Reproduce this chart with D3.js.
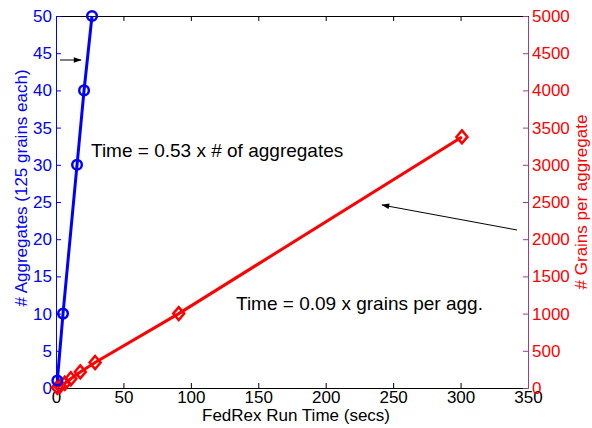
<!DOCTYPE html>
<html>
<head>
<meta charset="utf-8">
<script src="https://cdn.jsdelivr.net/npm/d3@7"></script>
<style>
body { margin: 0; background: #fff; }
svg text { font-family: "Liberation Sans", Arial, sans-serif; }
</style>
</head>
<body>
<div id="chart"></div>
<script>
// aggregates (blue, left axis)
var aggTimes  = [1, 5.2, 15.6, 20.8, 26.7];
var aggCounts = [1, 10, 30, 40, 50];
// grains per aggregate (red, right axis)
var grainTimes  = [1, 3, 6.5, 11, 18, 29, 91, 301];
var grainCounts = [8, 27, 64, 125, 216, 343, 1000, 3375];

var xTicks      = [0, 50, 100, 150, 200, 250, 300, 350];
var leftTicks   = [0, 5, 10, 15, 20, 25, 30, 35, 40, 45, 50];
var rightTicks  = [0, 500, 1000, 1500, 2000, 2500, 3000, 3500, 4000, 4500, 5000];

var W = 592, H = 428;
var margin = {top: 16, right: 64, bottom: 40, left: 56};
var viewW = W - margin.left - margin.right,
	viewH = H - margin.top - margin.bottom;

var blue = '#0000ff', red = '#ff0000', purple = '#9b3c9b';
var fs = '17px';

var svg = d3.select('#chart').append('svg')
	.attr('width', W).attr('height', H);

svg.append('defs').append('marker')
	.attr('id', 'arrow')
	.attr('viewBox', '0 0 10 10')
	.attr('refX', 9).attr('refY', 5)
	.attr('markerWidth', 11).attr('markerHeight', 8)
	.attr('markerUnits', 'userSpaceOnUse')
	.attr('orient', 'auto')
	.append('path').attr('d', 'M0,1.5 L10,5 L0,8.5 Z').attr('fill', '#000');

var vis = svg.append('g')
	.attr('transform', 'translate(' + margin.left + ',' + margin.top + ')');

var x  = d3.scaleLinear().domain([0, 350]).range([0, viewW]);
var yL = d3.scaleLinear().domain([0, 50]).range([viewH, 0]);
var yR = d3.scaleLinear().domain([0, 5000]).range([viewH, 0]);
var fmt = d3.format('d');

function styleAxis(g, color) {
	g.select('.domain').attr('stroke', color).attr('stroke-width', 1);
	g.selectAll('.tick line').attr('stroke', color);
	g.selectAll('.tick text').attr('fill', color).style('font-size', fs);
}

// top & bottom x axes
var xTop = vis.append('g')
	.call(d3.axisTop(x).tickValues(xTicks).tickSize(-5).tickFormat(''));
styleAxis(xTop, '#000');
var xBot = vis.append('g')
	.attr('transform', 'translate(0,' + viewH + ')')
	.call(d3.axisBottom(x).tickValues(xTicks).tickSize(-5).tickPadding(3)
		.tickFormat(fmt).tickSizeOuter(0));
styleAxis(xBot, '#000');

// left axis
var left = vis.append('g')
	.call(d3.axisLeft(yL).tickValues(leftTicks).tickSize(-5).tickPadding(4)
		.tickFormat(fmt).tickSizeOuter(0));
styleAxis(left, blue);

// right axis
var right = vis.append('g')
	.attr('transform', 'translate(' + viewW + ',0)')
	.call(d3.axisRight(yR).tickValues(rightTicks).tickSize(-5).tickPadding(4)
		.tickFormat(fmt).tickSizeOuter(0));
styleAxis(right, red);
right.select('.domain').attr('stroke', purple);
right.selectAll('.tick line').attr('stroke', purple);

// axis titles
svg.append('text')
	.attr('x', margin.left + viewW / 2 + 4).attr('y', 421)
	.attr('text-anchor', 'middle').style('font-size', fs)
	.text('FedRex Run Time (secs)');
svg.append('text')
	.attr('transform', 'translate(27,' + (margin.top + viewH / 2 - 14) + ') rotate(-90)')
	.attr('text-anchor', 'middle').style('font-size', fs).attr('fill', blue)
	.text('# Aggregates (125 grains each)');
svg.append('text')
	.attr('transform', 'translate(587,' + (margin.top + viewH / 2) + ') rotate(-90)')
	.attr('text-anchor', 'middle').style('font-size', fs).attr('fill', red)
	.text('# Grains per aggregate');

// red series
var lineR = d3.line()
	.x(function(d, i) { return x(grainTimes[i]); })
	.y(function(d) { return yR(d); });
vis.append('path')
	.attr('d', lineR(grainCounts))
	.attr('fill', 'none').attr('stroke', red).attr('stroke-width', 3);
vis.selectAll('.diamond')
	.data(grainCounts).enter().append('path')
	.attr('class', 'diamond')
	.attr('transform', function(d, i) { return 'translate(' + x(grainTimes[i]) + ',' + yR(d) + ')'; })
	.attr('d', 'M0,-6.5 L5.5,0 L0,6.5 L-5.5,0 Z')
	.attr('fill', 'none').attr('stroke', red).attr('stroke-width', 2.5);

// blue series
var lineL = d3.line()
	.x(function(d, i) { return x(aggTimes[i]); })
	.y(function(d) { return yL(d); });
vis.append('path')
	.attr('d', lineL(aggCounts))
	.attr('fill', 'none').attr('stroke', blue).attr('stroke-width', 3);
vis.selectAll('.circ')
	.data(aggCounts).enter().append('circle')
	.attr('class', 'circ')
	.attr('cx', function(d, i) { return x(aggTimes[i]); })
	.attr('cy', function(d) { return yL(d); })
	.attr('r', 4.8)
	.attr('fill', 'none').attr('stroke', blue).attr('stroke-width', 2.5);

// annotations
svg.append('text').attr('x', 91).attr('y', 157).style('font-size', '19px')
	.text('Time = 0.53 x # of aggregates');
svg.append('text').attr('x', 236).attr('y', 310).style('font-size', '19px')
	.text('Time = 0.09 x grains per agg.');

svg.append('line')
	.attr('x1', 60).attr('y1', 60).attr('x2', 81).attr('y2', 60)
	.attr('stroke', '#000').attr('stroke-width', 1).attr('marker-end', 'url(#arrow)');
svg.append('line')
	.attr('x1', 517).attr('y1', 230).attr('x2', 382).attr('y2', 205)
	.attr('stroke', '#000').attr('stroke-width', 1).attr('marker-end', 'url(#arrow)');
</script>
</body>
</html>
